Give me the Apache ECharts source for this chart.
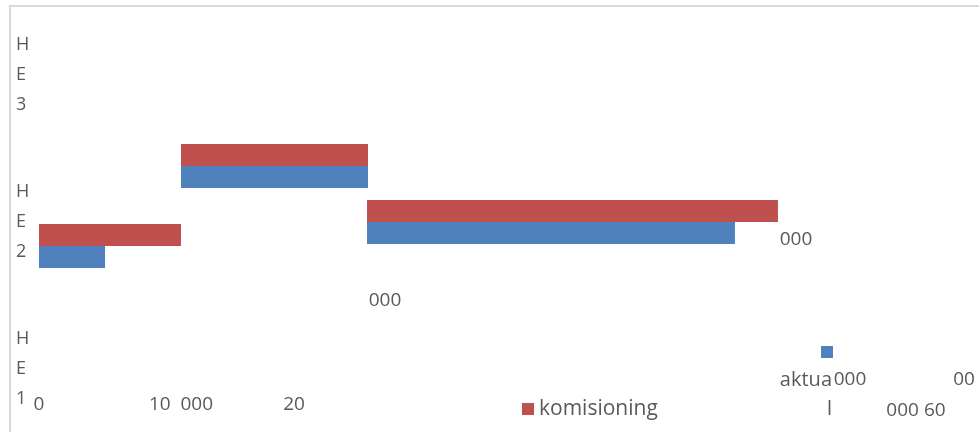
<!DOCTYPE html>
<html><head><meta charset="utf-8">
<script src="https://cdn.jsdelivr.net/npm/echarts@6/dist/echarts.min.js"></script>
<style>html,body{margin:0;padding:0;background:#fff}#c{width:979px;height:432px}</style>
</head><body><div id="c"></div>
<script>
// y-axis groups (bottom to top)
const groupLabels = ['HE1', 'HE2', 'HE3'];
// fine hidden row slots for the bars (top to bottom)
const slotCount = 55;
const taskRows = [30, 20, 27];
// komisioning (planned) and aktual bars: start / end on x
const komStart = [0, 10000, 23100];
const komEnd   = [10000, 23170, 52040];
const aktStart = [0, 10000, 23100];
const aktEnd   = [4650, 23170, 49010];
// x tick labels as they appear (0 .. 60 000 step 10 000)
const tickLabels = ['0', '10  000', '20', '', '', '', '000 60'];
// stray label fragments
const strayLabels = ['000', '000', '000', '00'];

const FONT = 'Open Sans';
const GREY = '#595959';
const RED = '#C0504D';
const BLUE = '#4F81BD';

const slots = Array.from({length: slotCount}, (_, i) => 's' + i);
const pair = (vals) => vals.map((v, i) => [v, taskRows[i]]);
const stray = (t, x, y) => ({type: 'text', silent: true, x, y,
  style: {text: t, fontSize: 19, fontFamily: FONT, fill: GREY,
          textAlign: 'center', textVerticalAlign: 'middle', align: 'center', verticalAlign: 'middle'}});

const chart = echarts.init(document.getElementById('c'));
chart.setOption({
  animation: false,
  backgroundColor: '#fff',
  grid: {left: 39, right: 88, top: 2, bottom: -10, containLabel: false, outerBoundsMode: 'none'},
  xAxis: [{
    type: 'value', min: 0, max: 60000, interval: 10000,
    splitLine: {show: false}, axisLine: {show: false}, axisTick: {show: false},
    axisLabel: {
      margin: -47, fontSize: 19, color: GREY, fontFamily: FONT,
      formatter: (v) => {
        const idx = Math.round(v / 10000);
        const t = tickLabels[idx] || '';
        if (!t) return '';
        if (idx === 2) return '{l|' + t + '}';
        if (idx === 6) return '{r|' + t + '}';
        return t;
      },
      rich: {
        l: {fontSize: 19, color: GREY, fontFamily: FONT, padding: [0, 58, 0, 0]},
        r: {fontSize: 19, color: GREY, fontFamily: FONT, padding: [6, 0, 0, 50]}
      }
    }
  }],
  yAxis: [{
    type: 'category', data: groupLabels,
    axisLine: {show: false}, axisTick: {show: false}, splitLine: {show: false},
    axisLabel: {
      margin: 23, align: 'left', fontSize: 18, lineHeight: 30, color: GREY, fontFamily: FONT,
      formatter: (v) => v.split('').join('\n')
    }
  }, {
    type: 'category', data: slots, inverse: true, show: false
  }],
  legend: [{
    data: ['komisioning'], left: 522, top: 397, icon: 'rect', padding: 0,
    itemWidth: 12, itemHeight: 12,
    textStyle: {fontSize: 21, lineHeight: 24, color: GREY, fontFamily: FONT}
  }, {
    data: ['aktual'], left: 821, top: 346, icon: 'rect', padding: 0,
    itemWidth: 12, itemHeight: 12, formatter: () => '',
    textStyle: {fontSize: 12, lineHeight: 12, color: GREY}
  }, {
    data: ['aktual'], right: 130, top: 366, icon: 'rect', align: 'right', padding: 0,
    itemWidth: 12, itemHeight: 12, itemStyle: {opacity: 0},
    formatter: (n) => n.slice(0, -1) + '\n' + n.slice(-1),
    textStyle: {fontSize: 20, lineHeight: 29, color: GREY, fontFamily: FONT}
  }],
  series: [{
    name: 'kom-base', type: 'bar', stack: 'k', yAxisIndex: 1, silent: true,
    barWidth: 22, barGap: '0%',
    itemStyle: {color: 'rgba(0,0,0,0)'},
    data: pair(komStart)
  }, {
    name: 'komisioning', type: 'bar', stack: 'k', yAxisIndex: 1,
    barWidth: 22, barGap: '0%',
    itemStyle: {color: RED},
    data: pair(komEnd.map((e, i) => e - komStart[i]))
  }, {
    name: 'akt-base', type: 'bar', stack: 'a', yAxisIndex: 1, silent: true,
    barWidth: 22, barGap: '0%',
    itemStyle: {color: 'rgba(0,0,0,0)'},
    data: pair(aktStart)
  }, {
    name: 'aktual', type: 'bar', stack: 'a', yAxisIndex: 1,
    barWidth: 22, barGap: '0%',
    itemStyle: {color: BLUE},
    data: pair(aktEnd.map((e, i) => e - aktStart[i]))
  }],
  graphic: [
    {type: 'rect', silent: true, z: -10, shape: {x: 10, y: 6, width: 1200, height: 800},
     style: {fill: 'none', stroke: '#d9d9d9', lineWidth: 2}},
    stray(strayLabels[0], 385, 301),
    stray(strayLabels[1], 796, 240),
    stray(strayLabels[2], 850, 380),
    stray(strayLabels[3], 964, 380)
  ]
});
</script>
</body></html>
